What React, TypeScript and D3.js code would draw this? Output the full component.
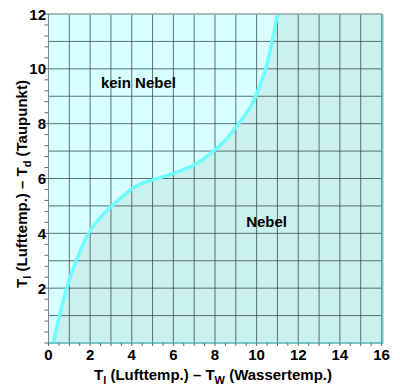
import React from "react";
import * as d3 from "d3";

const xTicks = [0, 2, 4, 6, 8, 10, 12, 14, 16];
const yTicks = [2, 4, 6, 8, 10, 12];
const curveX = [0.24, 0.53, 0.88, 1.33, 1.92, 2.4, 3.04, 3.5, 4.0, 4.5, 5.0, 6.0, 7.0, 7.93, 8.5, 9.13, 9.7, 10.06, 10.44, 10.75, 11.0];
const curveY = [0, 1, 2, 3, 4, 4.5, 5, 5.3, 5.62, 5.82, 5.95, 6.19, 6.49, 7.0, 7.4, 8.0, 8.6, 9.2, 10, 11, 12];
const regionLabels = [
  { text: "kein Nebel", x: 4.32, y: 9.3 },
  { text: "Nebel", x: 10.48, y: 4.24 },
];

export default function App() {
  const W = 400, H = 389;
  const x = d3.scaleLinear().domain([0, 16]).range([48.5, 381.5]);
  const y = d3.scaleLinear().domain([0, 12]).range([343, 14]);
  const pts: [number, number][] = curveX.map((v, i) => [v, curveY[i]]);
  const line = d3.line<[number, number]>().x(d => x(d[0])).y(d => y(d[1])).curve(d3.curveCatmullRom.alpha(0.5));
  const curvePath = line(pts) || "";
  const fogPath = curvePath + `L${x(16)},${y(12)}L${x(16)},${y(0)}Z`;
  const gridX = d3.range(0, 17, 1);
  const gridY = d3.range(0, 13, 1);
  const minorX = d3.range(0, 16.01, 0.5);
  const minorY = d3.range(0, 12.01, 0.4);
  const font = "'Liberation Sans', Arial, Helvetica, sans-serif";
  return (
    <svg width={W} height={H} style={{ position: "absolute", left: 0, top: 0 }} fontFamily={font}>
      <rect x={x(0)} y={y(12)} width={x(16) - x(0)} height={y(0) - y(12)} fill="#d8ffff" />
      <path d={fogPath} fill="#cbf0f0" />
      {gridX.map(v => (
        <line key={"gx" + v} x1={x(v)} x2={x(v)} y1={y(0)} y2={y(12)} stroke="#2f4444" strokeOpacity={0.75} strokeWidth={1} />
      ))}
      {gridY.map(v => (
        <line key={"gy" + v} x1={x(0)} x2={x(16)} y1={y(v)} y2={y(v)} stroke="#2f4444" strokeOpacity={0.75} strokeWidth={1} />
      ))}
      <path d={curvePath} fill="none" stroke="#6ffcff" strokeWidth={3.5} strokeLinecap="butt" />
      <line x1={x(0)} x2={x(16) + 1} y1={y(12)} y2={y(12)} stroke="#b0b8b8" strokeWidth={1.5} />
      <line x1={x(0)} x2={x(0)} y1={y(12)} y2={y(0)} stroke="#7a8a8a" strokeWidth={1} />
      <line x1={x(16) + 1} x2={x(16) + 1} y1={y(12)} y2={y(0) + 1} stroke="#66cccc" strokeWidth={2} />
      <line x1={x(0)} x2={x(16) + 1} y1={y(0)} y2={y(0)} stroke="#66cccc" strokeWidth={1.5} />
      {minorY.map((v, i) => (
        <line key={"my" + i} x1={x(0) - 4} x2={x(0)} y1={y(v)} y2={y(v)} stroke="#666" strokeWidth={1} />
      ))}
      {minorX.map((v, i) => (
        <line key={"mx" + i} x1={x(v)} x2={x(v)} y1={y(0)} y2={y(0) + 3} stroke="#666" strokeWidth={1} />
      ))}
      {xTicks.map(v => (
        <text key={"xt" + v} x={x(v)} y={360} textAnchor="middle" fontSize={15} fontWeight="bold" fill="#000">{v}</text>
      ))}
      {yTicks.map(v => (
        <text key={"yt" + v} x={46} y={y(v) + 5.5} textAnchor="end" fontSize={15} fontWeight="bold" fill="#000">{v}</text>
      ))}
      {regionLabels.map(l => (
        <text key={l.text} x={x(l.x)} y={y(l.y)} textAnchor="middle" fontSize={15} fontWeight="bold" fill="#000">{l.text}</text>
      ))}
      <text x={213} y={380} textAnchor="middle" fontSize={15} fontWeight="bold" fill="#000">
        T<tspan fontSize={11} dy={4}>l</tspan><tspan dy={-4}> (Lufttemp.) – T</tspan><tspan fontSize={11} dy={4}>W</tspan><tspan dy={-4}> (Wassertemp.)</tspan>
      </text>
      <text transform={`translate(27,184) rotate(-90)`} textAnchor="middle" fontSize={15} fontWeight="bold" fill="#000">
        T<tspan fontSize={11} dy={4}>l</tspan><tspan dy={-4}> (Lufttemp.) – T</tspan><tspan fontSize={11} dy={4}>d</tspan><tspan dy={-4}> (Taupunkt)</tspan>
      </text>
    </svg>
  );
}
